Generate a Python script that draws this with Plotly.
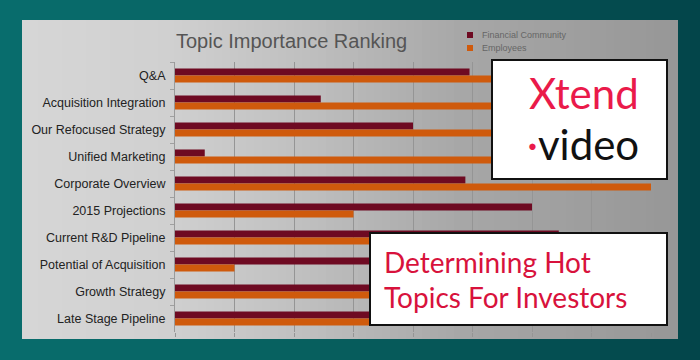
import plotly.graph_objects as go

# ---- data ----
categories = ["Q&A", "Acquisition Integration", "Our Refocused Strategy", "Unified Marketing",
              "Corporate Overview", "2015 Projections", "Current R&D Pipeline",
              "Potential of Acquisition", "Growth Strategy", "Late Stage Pipeline"]
financial_community = [4.95, 2.45, 4.0, 0.5, 4.88, 6.0, 6.45, 5.6, 5.8, 6.2]
employees = [7.2, 6.8, 7.0, 6.6, 8.0, 3.0, 5.2, 1.0, 4.6, 5.0]
series_names = ["Financial Community", "Employees"]
chart_title = "Topic Importance Ranking"
x_range = [0, 8]

FIN_COLOR = "#6e0a22"
EMP_COLOR = "#cf5a0c"
LOGO_RED = "#ea1a4a"

# plot-area geometry in pixels
W, H = 700, 360
PL, PR, PT, PB = 175, 651, 62, 332


def px(x):
    return (x - PL) / (PR - PL)


def py(y):
    return (PB - y) / (PB - PT)


def hex2rgb(h):
    h = h.lstrip("#")
    return [int(h[i:i + 2], 16) for i in (0, 2, 4)]


def interp(stops, x):
    for (x0, c0), (x1, c1) in zip(stops, stops[1:]):
        if x0 <= x <= x1:
            t = (x - x0) / (x1 - x0) if x1 > x0 else 0
            a, b = hex2rgb(c0), hex2rgb(c1)
            return "rgb(%d,%d,%d)" % tuple(round(a[i] + (b[i] - a[i]) * t) for i in range(3))
    return stops[-1][1]


shapes = []
# teal background gradient
bg_stops = [(0, "#086d6d"), (300, "#07605f"), (700, "#03454a")]
n = 70
for i in range(n):
    x0 = W * i / n
    x1 = W * (i + 1) / n
    shapes.append(dict(type="rect", xref="paper", yref="paper", layer="below",
                       x0=px(x0), x1=px(x1 + 0.6), y0=py(H), y1=py(0),
                       fillcolor=interp(bg_stops, (x0 + x1) / 2), line=dict(width=0)))
# gray card gradient
CX0, CX1, CY0, CY1 = 22, 678, 20, 339
card_stops = [(22, "#d6d6d6"), (170, "#d0d0d0"), (320, "#bdbdbd"), (460, "#a7a7a7"), (678, "#979797")]
n = 82
for i in range(n):
    x0 = CX0 + (CX1 - CX0) * i / n
    x1 = CX0 + (CX1 - CX0) * (i + 1) / n
    shapes.append(dict(type="rect", xref="paper", yref="paper", layer="below",
                       x0=px(x0), x1=px(min(x1 + 0.6, CX1)), y0=py(CY1), y1=py(CY0),
                       fillcolor=interp(card_stops, (x0 + x1) / 2), line=dict(width=0)))

# legend squares
shapes.append(dict(type="rect", xref="paper", yref="paper", layer="above",
                   x0=px(467), x1=px(473), y0=py(38), y1=py(32), fillcolor=FIN_COLOR, line=dict(width=0)))
shapes.append(dict(type="rect", xref="paper", yref="paper", layer="above",
                   x0=px(467), x1=px(473), y0=py(51), y1=py(45), fillcolor=EMP_COLOR, line=dict(width=0)))

# white overlay boxes
shapes.append(dict(type="rect", xref="paper", yref="paper", layer="above",
                   x0=px(492), x1=px(667), y0=py(179), y1=py(60), fillcolor="white",
                   line=dict(color="#111111", width=2)))
shapes.append(dict(type="rect", xref="paper", yref="paper", layer="above",
                   x0=px(370), x1=px(667), y0=py(325), y1=py(233), fillcolor="white",
                   line=dict(color="#111111", width=2)))

annotations = [
    dict(text=chart_title, xref="paper", yref="paper", x=px(291), y=py(41),
         showarrow=False, xanchor="center", yanchor="middle",
         font=dict(family="Liberation Sans, Arial", size=20, color="#555555")),
    dict(text=series_names[0], xref="paper", yref="paper", x=px(480), y=py(35),
         showarrow=False, xanchor="left", yanchor="middle",
         font=dict(family="Liberation Sans, Arial", size=9, color="#666666")),
    dict(text=series_names[1], xref="paper", yref="paper", x=px(480), y=py(48),
         showarrow=False, xanchor="left", yanchor="middle",
         font=dict(family="Liberation Sans, Arial", size=9, color="#666666")),
    dict(text="Xtend", xref="paper", yref="paper", x=px(641), y=py(93),
         showarrow=False, xanchor="right", yanchor="middle",
         font=dict(family="Lato", size=42, color=LOGO_RED)),
    dict(text="<span style='color:%s'>·</span>video" % LOGO_RED, xref="paper", yref="paper",
         x=px(641), y=py(144), showarrow=False, xanchor="right", yanchor="middle",
         font=dict(family="Lato", size=42, color="#111111")),
    dict(text="Determining Hot", xref="paper", yref="paper", x=px(382), y=py(262),
         showarrow=False, xanchor="left", yanchor="middle",
         font=dict(family="Lato", size=28, color="#d8123c")),
    dict(text="Topics For Investors", xref="paper", yref="paper", x=px(382), y=py(297),
         showarrow=False, xanchor="left", yanchor="middle",
         font=dict(family="Lato", size=28, color="#d8123c")),
]

fig = go.Figure()
fig.add_trace(go.Bar(y=categories, x=financial_community, name=series_names[0], orientation="h",
                     marker=dict(color=FIN_COLOR, line=dict(width=0))))
fig.add_trace(go.Bar(y=categories, x=employees, name=series_names[1], orientation="h",
                     marker=dict(color=EMP_COLOR, line=dict(width=0))))

fig.update_layout(
    width=W, height=H,
    margin=dict(l=PL, r=W - PR, t=PT, b=H - PB, pad=0),
    paper_bgcolor="#07605f",
    plot_bgcolor="rgba(0,0,0,0)",
    barmode="group", bargap=0.48, bargroupgap=0,
    showlegend=False,
    shapes=shapes,
    annotations=annotations,
    xaxis=dict(range=x_range, dtick=1, showticklabels=False, showgrid=True,
               gridcolor="#959595", gridwidth=1, zeroline=False, showline=False,
               ticks="outside", ticklen=4, tickcolor="#959595", fixedrange=True),
    yaxis=dict(autorange="reversed", showline=True, linecolor="#9a9a9a", linewidth=1,
               ticks="outside", ticklen=4, tickcolor="#a0a0a0", tickson="boundaries",
               showgrid=False, ticklabelstandoff=6,
               tickfont=dict(family="Liberation Sans, Arial", size=12.5, color="#222222")),
)

fig.write_html("out.html")
